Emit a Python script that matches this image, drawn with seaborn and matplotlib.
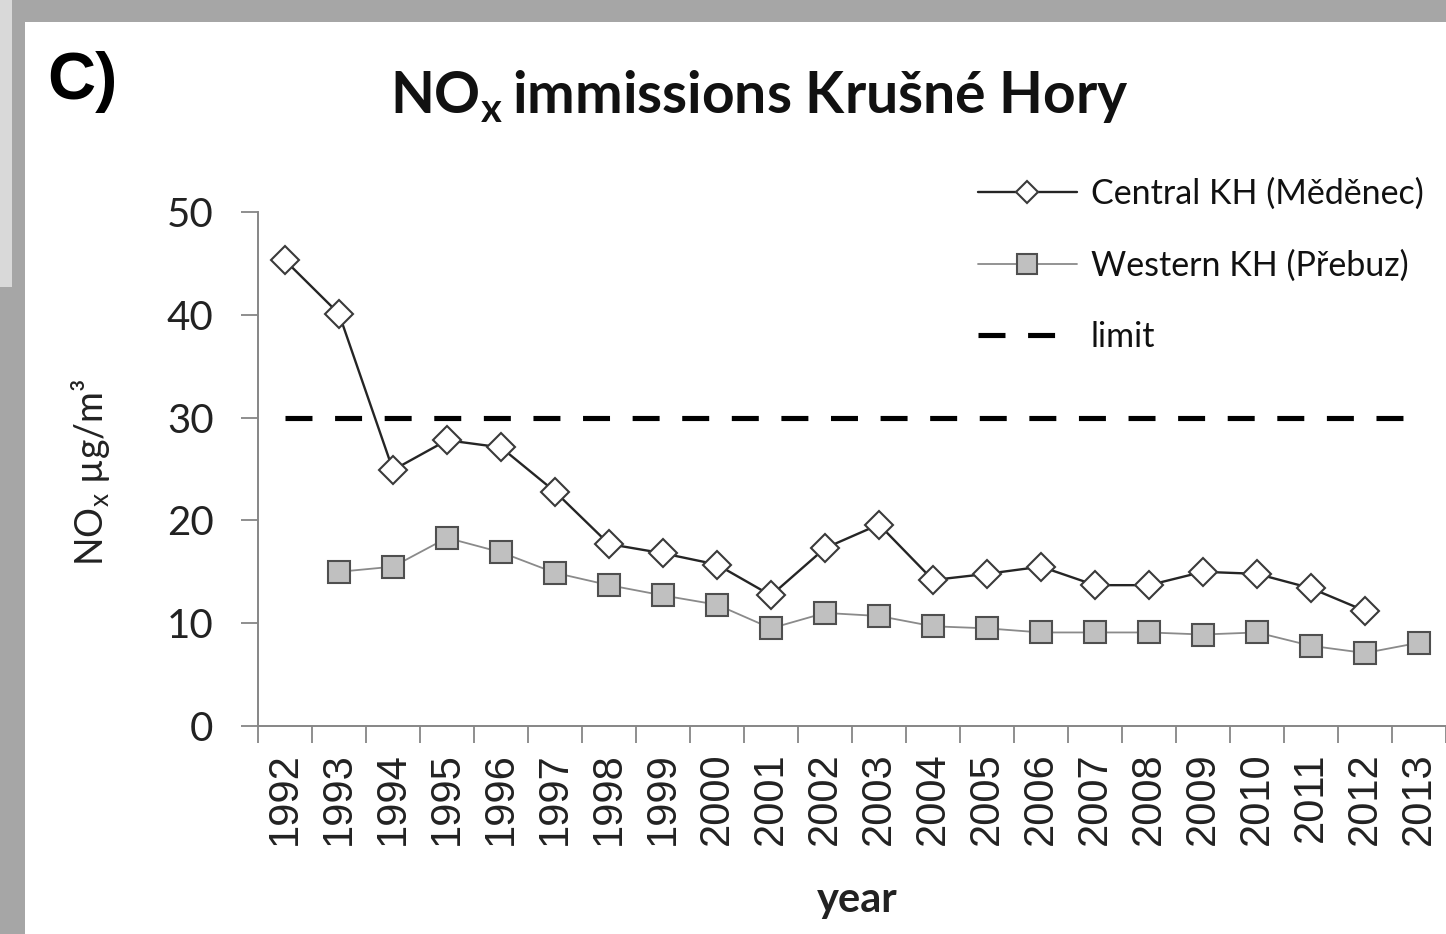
import numpy as np
import pandas as pd
import seaborn as sns
import matplotlib.pyplot as plt
from matplotlib.patches import Rectangle
from matplotlib.ticker import FixedLocator, NullFormatter

# values (NO_x, ug/m3)
years = list(range(1992, 2014))
central = [45.3, 40.1, 24.9, 27.8, 27.1, 22.8, 17.7, 16.8, 15.7, 12.7, 17.3,
           19.6, 14.2, 14.8, 15.5, 13.7, 13.7, 15.0, 14.8, 13.4, 11.2, np.nan]
western = [np.nan, 15.0, 15.5, 18.3, 16.9, 14.9, 13.7, 12.7, 11.8, 9.5, 11.0,
           10.7, 9.7, 9.5, 9.1, 9.1, 9.1, 8.9, 9.1, 7.8, 7.1, 8.1]
limit_years = [1992, 2013]
limit_vals = [30, 30]

df = pd.DataFrame({"year": years, "central": central, "western": western})

sns.set_style("white")
plt.rcParams["font.family"] = ["Lato", "DejaVu Sans"]

fig = plt.figure(figsize=(14.46, 9.34), dpi=100)
W, H = 1446, 934

# grey frame around the panel
fig.patch.set_facecolor("#a6a6a6")
fig.patches.append(Rectangle((25 / W, 0), 1 - 25 / W, 1 - 22 / H, transform=fig.transFigure,
                             facecolor="white", edgecolor="none", zorder=-2))
fig.patches.append(Rectangle((0, 1 - 287 / H), 12 / W, 287 / H, transform=fig.transFigure,
                             facecolor="#d9d9d9", edgecolor="none", zorder=-2))

ax = fig.add_axes([258 / W, 208 / H, 1 - 258 / W, (726 - 212) / H])
ax.set_facecolor("none")
ax.set_zorder(3)

sns.lineplot(data=df, x="year", y="central", ax=ax, color="#252525", lw=1.7,
             marker="D", markersize=14, markerfacecolor="white",
             markeredgecolor="#3a3a3a", markeredgewidth=1.5,
             label="Central KH (Měděnec)", zorder=4)
sns.lineplot(data=df, x="year", y="western", ax=ax, color="#8a8a8a", lw=1.3,
             marker="s", markersize=16.5, markerfacecolor="#c0c0c0",
             markeredgecolor="#4f4f4f", markeredgewidth=1.5,
             label="Western KH (Přebuz)", zorder=3)
sns.lineplot(x=limit_years, y=limit_vals, ax=ax, color="black", lw=3.7,
             linestyle=(0, (5.25, 4.4)), label="limit", zorder=2)

ax.set_xlim(1991.5, 2013.5)
ax.set_ylim(0, 50)
ax.set_yticks([0, 10, 20, 30, 40, 50])
ax.xaxis.set_major_locator(FixedLocator(np.arange(1991.5, 2014, 1.0)))
ax.xaxis.set_major_formatter(NullFormatter())
ax.xaxis.set_minor_locator(FixedLocator(years))
ax.set_xticklabels([str(y) for y in years], minor=True, rotation=90,
                   fontfamily="Liberation Sans", fontsize=30)
ax.tick_params(axis="x", which="major", direction="out", length=12, width=1.3,
               color="#868686", bottom=True)
ax.tick_params(axis="x", which="minor", length=0, pad=19, bottom=True)
ax.tick_params(axis="y", direction="out", length=12, width=1.3, color="#868686",
               labelsize=29, pad=20, left=True, labelcolor="#222222")
for lab in ax.get_xticklabels(minor=True):
    lab.set_color("#222222")

for side in ("top", "right"):
    ax.spines[side].set_visible(False)
for side in ("left", "bottom"):
    ax.spines[side].set_color("#868686")
    ax.spines[side].set_linewidth(1.4)

ax.set_xlabel("")
ax.set_ylabel("")

fig.text(91 / W, 1 - 472 / H, r"NO$_\mathregular{x}$ µg/m³", rotation=90,
         ha="center", va="center", fontsize=27, color="#222222")
fig.text(857 / W, 1 - 900 / H, "year", ha="center", va="center",
         fontsize=30, fontweight="bold", color="#222222")
fig.text(759 / W, 1 - 113 / H, r"NO$_\mathregular{x}\,$immissions Krušné Hory",
         ha="center", va="baseline", fontsize=41, fontweight="bold", color="#111111")
fig.text(47 / W, 1 - 99 / H, "C)", ha="left", va="baseline", fontsize=48,
         fontweight="bold", fontfamily="Liberation Sans", color="black")

leg = ax.legend(loc="upper left", bbox_to_anchor=(978 / W, 1 - 178 / H),
                bbox_transform=fig.transFigure, frameon=False, fontsize=24.5,
                handlelength=2.9, handletextpad=0.42, labelspacing=1.15,
                borderpad=0, borderaxespad=0)
leg.legend_handles[0].set_markersize(11)
leg.legend_handles[1].set_markersize(15)
for t in leg.get_texts():
    t.set_color("#111111")

fig.savefig("out.png", dpi=100, facecolor=fig.get_facecolor())
